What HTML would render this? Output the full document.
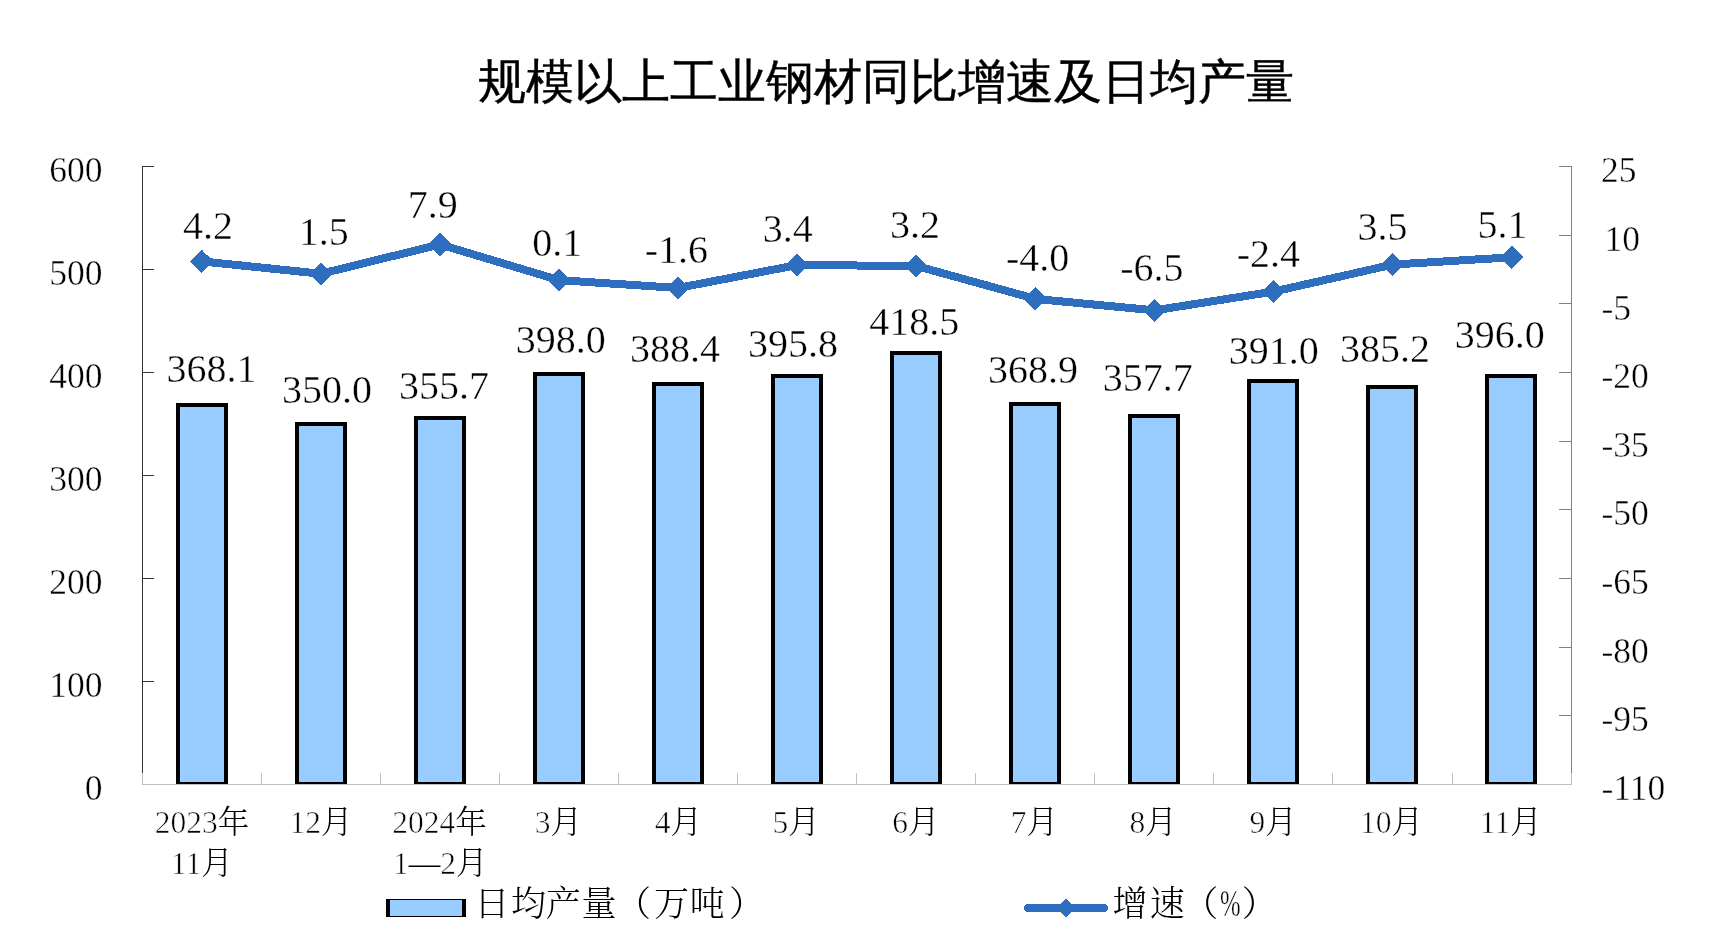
<!DOCTYPE html><html><head><meta charset="utf-8"><style>html,body{margin:0;padding:0;background:#fff}svg{display:block;will-change:transform}.n{font-family:"Liberation Serif",serif;stroke:#fff;stroke-width:0.4px}.c{font-family:"Liberation Serif","Noto Serif CJK SC",serif;font-weight:300}.d{stroke:#fff;stroke-width:0.6px}.t{font-family:"WenQuanYi Zen Hei",sans-serif}</style></head><body>
<svg width="1728" height="936" viewBox="0 0 1728 936">
<rect width="1728" height="936" fill="#fff"/>
<text class="t" x="478.0" y="98.0" font-size="48.0" fill="#000" stroke="#000" stroke-width="0.40">规模以上工业钢材同比增速及日均产量</text>
<g shape-rendering="crispEdges">
<line x1="142" y1="784.5" x2="1572" y2="784.5" stroke="#c0c0c0" stroke-width="1"/>
<line x1="142.5" y1="773" x2="142.5" y2="784" stroke="#c0c0c0" stroke-width="1"/>
<line x1="261.5" y1="773" x2="261.5" y2="784" stroke="#c0c0c0" stroke-width="1"/>
<line x1="380.5" y1="773" x2="380.5" y2="784" stroke="#c0c0c0" stroke-width="1"/>
<line x1="499.5" y1="773" x2="499.5" y2="784" stroke="#c0c0c0" stroke-width="1"/>
<line x1="618.5" y1="773" x2="618.5" y2="784" stroke="#c0c0c0" stroke-width="1"/>
<line x1="737.5" y1="773" x2="737.5" y2="784" stroke="#c0c0c0" stroke-width="1"/>
<line x1="856.5" y1="773" x2="856.5" y2="784" stroke="#c0c0c0" stroke-width="1"/>
<line x1="975.5" y1="773" x2="975.5" y2="784" stroke="#c0c0c0" stroke-width="1"/>
<line x1="1094.5" y1="773" x2="1094.5" y2="784" stroke="#c0c0c0" stroke-width="1"/>
<line x1="1213.5" y1="773" x2="1213.5" y2="784" stroke="#c0c0c0" stroke-width="1"/>
<line x1="1332.5" y1="773" x2="1332.5" y2="784" stroke="#c0c0c0" stroke-width="1"/>
<line x1="1452.5" y1="773" x2="1452.5" y2="784" stroke="#c0c0c0" stroke-width="1"/>
<line x1="1571.5" y1="773" x2="1571.5" y2="784" stroke="#c0c0c0" stroke-width="1"/>
<line x1="142.5" y1="166" x2="142.5" y2="773" stroke="#333" stroke-width="1"/>
<line x1="142" y1="166.5" x2="154" y2="166.5" stroke="#333" stroke-width="1"/>
<line x1="142" y1="269.5" x2="154" y2="269.5" stroke="#333" stroke-width="1"/>
<line x1="142" y1="372.5" x2="154" y2="372.5" stroke="#333" stroke-width="1"/>
<line x1="142" y1="475.5" x2="154" y2="475.5" stroke="#333" stroke-width="1"/>
<line x1="142" y1="578.5" x2="154" y2="578.5" stroke="#333" stroke-width="1"/>
<line x1="142" y1="681.5" x2="154" y2="681.5" stroke="#333" stroke-width="1"/>
<line x1="1571.5" y1="166" x2="1571.5" y2="773" stroke="#808080" stroke-width="1"/>
<line x1="1559" y1="166.5" x2="1572" y2="166.5" stroke="#808080" stroke-width="1"/>
<line x1="1559" y1="235.5" x2="1572" y2="235.5" stroke="#808080" stroke-width="1"/>
<line x1="1559" y1="303.5" x2="1572" y2="303.5" stroke="#808080" stroke-width="1"/>
<line x1="1559" y1="372.5" x2="1572" y2="372.5" stroke="#808080" stroke-width="1"/>
<line x1="1559" y1="441.5" x2="1572" y2="441.5" stroke="#808080" stroke-width="1"/>
<line x1="1559" y1="509.5" x2="1572" y2="509.5" stroke="#808080" stroke-width="1"/>
<line x1="1559" y1="578.5" x2="1572" y2="578.5" stroke="#808080" stroke-width="1"/>
<line x1="1559" y1="647.5" x2="1572" y2="647.5" stroke="#808080" stroke-width="1"/>
<line x1="1559" y1="715.5" x2="1572" y2="715.5" stroke="#808080" stroke-width="1"/>
</g>
<defs><clipPath id="pc"><rect x="0" y="0" width="1728" height="784"/></clipPath></defs>
<g clip-path="url(#pc)">
<rect x="178.00" y="405.00" width="48.00" height="379.00" fill="#99ccff" stroke="#000" stroke-width="4" stroke-linejoin="miter"/>
<rect x="297.00" y="424.00" width="48.00" height="360.00" fill="#99ccff" stroke="#000" stroke-width="4" stroke-linejoin="miter"/>
<rect x="416.00" y="418.00" width="48.00" height="366.00" fill="#99ccff" stroke="#000" stroke-width="4" stroke-linejoin="miter"/>
<rect x="535.00" y="374.00" width="48.00" height="410.00" fill="#99ccff" stroke="#000" stroke-width="4" stroke-linejoin="miter"/>
<rect x="654.00" y="384.00" width="48.00" height="400.00" fill="#99ccff" stroke="#000" stroke-width="4" stroke-linejoin="miter"/>
<rect x="773.00" y="376.00" width="48.00" height="408.00" fill="#99ccff" stroke="#000" stroke-width="4" stroke-linejoin="miter"/>
<rect x="892.00" y="353.00" width="48.00" height="431.00" fill="#99ccff" stroke="#000" stroke-width="4" stroke-linejoin="miter"/>
<rect x="1011.00" y="404.00" width="48.00" height="380.00" fill="#99ccff" stroke="#000" stroke-width="4" stroke-linejoin="miter"/>
<rect x="1130.00" y="416.00" width="48.00" height="368.00" fill="#99ccff" stroke="#000" stroke-width="4" stroke-linejoin="miter"/>
<rect x="1249.00" y="381.00" width="48.00" height="403.00" fill="#99ccff" stroke="#000" stroke-width="4" stroke-linejoin="miter"/>
<rect x="1368.00" y="387.00" width="48.00" height="397.00" fill="#99ccff" stroke="#000" stroke-width="4" stroke-linejoin="miter"/>
<rect x="1487.00" y="376.00" width="48.00" height="408.00" fill="#99ccff" stroke="#000" stroke-width="4" stroke-linejoin="miter"/>
</g>
<polyline points="201.80,261.39 320.89,273.74 439.98,244.45 559.07,280.15 678.16,287.93 797.25,265.05 916.34,265.96 1035.43,298.91 1154.52,310.35 1273.61,291.59 1392.70,264.59 1511.79,257.27" fill="none" stroke="#2d6ebe" stroke-width="8.0" stroke-linejoin="round" shape-rendering="crispEdges"/>
<polygon points="201.80,249.79 213.40,261.39 201.80,272.99 190.20,261.39" fill="#2d6ebe" shape-rendering="crispEdges"/>
<polygon points="320.89,262.14 332.49,273.74 320.89,285.34 309.29,273.74" fill="#2d6ebe" shape-rendering="crispEdges"/>
<polygon points="439.98,232.85 451.58,244.45 439.98,256.05 428.38,244.45" fill="#2d6ebe" shape-rendering="crispEdges"/>
<polygon points="559.07,268.55 570.67,280.15 559.07,291.75 547.47,280.15" fill="#2d6ebe" shape-rendering="crispEdges"/>
<polygon points="678.16,276.33 689.76,287.93 678.16,299.53 666.56,287.93" fill="#2d6ebe" shape-rendering="crispEdges"/>
<polygon points="797.25,253.45 808.85,265.05 797.25,276.65 785.65,265.05" fill="#2d6ebe" shape-rendering="crispEdges"/>
<polygon points="916.34,254.36 927.94,265.96 916.34,277.56 904.74,265.96" fill="#2d6ebe" shape-rendering="crispEdges"/>
<polygon points="1035.43,287.31 1047.03,298.91 1035.43,310.51 1023.83,298.91" fill="#2d6ebe" shape-rendering="crispEdges"/>
<polygon points="1154.52,298.75 1166.12,310.35 1154.52,321.95 1142.92,310.35" fill="#2d6ebe" shape-rendering="crispEdges"/>
<polygon points="1273.61,279.99 1285.21,291.59 1273.61,303.19 1262.01,291.59" fill="#2d6ebe" shape-rendering="crispEdges"/>
<polygon points="1392.70,252.99 1404.30,264.59 1392.70,276.19 1381.10,264.59" fill="#2d6ebe" shape-rendering="crispEdges"/>
<polygon points="1511.79,245.67 1523.39,257.27 1511.79,268.87 1500.19,257.27" fill="#2d6ebe" shape-rendering="crispEdges"/>
<text class="n" x="208.05" y="238.90" font-size="40.0" text-anchor="middle">4.2</text>
<text class="n" x="323.75" y="244.70" font-size="40.0" text-anchor="middle">1.5</text>
<text class="n" x="432.80" y="218.00" font-size="40.0" text-anchor="middle">7.9</text>
<text class="n" x="557.35" y="256.40" font-size="40.0" text-anchor="middle">0.1</text>
<text class="n" x="676.40" y="263.30" font-size="40.0" text-anchor="middle">-1.6</text>
<text class="n" x="787.75" y="241.70" font-size="40.0" text-anchor="middle">3.4</text>
<text class="n" x="915.00" y="237.50" font-size="40.0" text-anchor="middle">3.2</text>
<text class="n" x="1037.65" y="271.10" font-size="40.0" text-anchor="middle">-4.0</text>
<text class="n" x="1151.80" y="281.40" font-size="40.0" text-anchor="middle">-6.5</text>
<text class="n" x="1268.45" y="266.70" font-size="40.0" text-anchor="middle">-2.4</text>
<text class="n" x="1382.40" y="240.30" font-size="40.0" text-anchor="middle">3.5</text>
<text class="n" x="1502.50" y="237.50" font-size="40.0" text-anchor="middle">5.1</text>
<text class="n" x="211.55" y="381.90" font-size="40.0" text-anchor="middle">368.1</text>
<text class="n" x="326.95" y="403.30" font-size="40.0" text-anchor="middle">350.0</text>
<text class="n" x="443.90" y="399.20" font-size="40.0" text-anchor="middle">355.7</text>
<text class="n" x="560.85" y="353.30" font-size="40.0" text-anchor="middle">398.0</text>
<text class="n" x="675.00" y="361.70" font-size="40.0" text-anchor="middle">388.4</text>
<text class="n" x="793.05" y="356.70" font-size="40.0" text-anchor="middle">395.8</text>
<text class="n" x="914.30" y="335.30" font-size="40.0" text-anchor="middle">418.5</text>
<text class="n" x="1032.95" y="383.10" font-size="40.0" text-anchor="middle">368.9</text>
<text class="n" x="1147.80" y="391.30" font-size="40.0" text-anchor="middle">357.7</text>
<text class="n" x="1273.85" y="363.80" font-size="40.0" text-anchor="middle">391.0</text>
<text class="n" x="1385.05" y="361.80" font-size="40.0" text-anchor="middle">385.2</text>
<text class="n" x="1499.80" y="347.90" font-size="40.0" text-anchor="middle">396.0</text>
<text class="n" x="102.5" y="181.8" font-size="35.5" text-anchor="end">600</text>
<text class="n" x="102.5" y="284.8" font-size="35.5" text-anchor="end">500</text>
<text class="n" x="102.5" y="387.7" font-size="35.5" text-anchor="end">400</text>
<text class="n" x="102.5" y="490.7" font-size="35.5" text-anchor="end">300</text>
<text class="n" x="102.5" y="593.7" font-size="35.5" text-anchor="end">200</text>
<text class="n" x="102.5" y="696.6" font-size="35.5" text-anchor="end">100</text>
<text class="n" x="102.5" y="799.6" font-size="35.5" text-anchor="end">0</text>
<text class="n" x="1601.0" y="182.2" font-size="35.5" text-anchor="start">25</text>
<text class="n" x="1604.5" y="250.8" font-size="35.5" text-anchor="start">10</text>
<text class="n" x="1601.5" y="319.5" font-size="35.5" text-anchor="start">-5</text>
<text class="n" x="1601.5" y="388.1" font-size="35.5" text-anchor="start">-20</text>
<text class="n" x="1601.5" y="456.8" font-size="35.5" text-anchor="start">-35</text>
<text class="n" x="1601.5" y="525.4" font-size="35.5" text-anchor="start">-50</text>
<text class="n" x="1601.5" y="594.1" font-size="35.5" text-anchor="start">-65</text>
<text class="n" x="1601.5" y="662.7" font-size="35.5" text-anchor="start">-80</text>
<text class="n" x="1601.5" y="731.4" font-size="35.5" text-anchor="start">-95</text>
<text class="n" x="1601.5" y="800.0" font-size="35.5" text-anchor="start">-110</text>
<text class="c" x="202.10" y="832.50" font-size="31.5" text-anchor="middle"><tspan class="d">2023</tspan>年</text>
<text class="c" x="201.80" y="873.60" font-size="31.5" text-anchor="middle"><tspan class="d">11</tspan>月</text>
<text class="c" x="320.90" y="832.50" font-size="31.5" text-anchor="middle"><tspan class="d">12</tspan>月</text>
<text class="c" x="439.60" y="832.50" font-size="31.5" text-anchor="middle"><tspan class="d">2024</tspan>年</text>
<text class="c" x="440.20" y="873.60" font-size="31.5" text-anchor="middle"><tspan class="d">1</tspan>—<tspan class="d">2</tspan>月</text>
<text class="c" x="558.30" y="832.50" font-size="31.5" text-anchor="middle"><tspan class="d">3</tspan>月</text>
<text class="c" x="678.30" y="832.50" font-size="31.5" text-anchor="middle"><tspan class="d">4</tspan>月</text>
<text class="c" x="796.10" y="832.50" font-size="31.5" text-anchor="middle"><tspan class="d">5</tspan>月</text>
<text class="c" x="916.00" y="832.50" font-size="31.5" text-anchor="middle"><tspan class="d">6</tspan>月</text>
<text class="c" x="1034.50" y="832.50" font-size="31.5" text-anchor="middle"><tspan class="d">7</tspan>月</text>
<text class="c" x="1153.20" y="832.50" font-size="31.5" text-anchor="middle"><tspan class="d">8</tspan>月</text>
<text class="c" x="1273.10" y="832.50" font-size="31.5" text-anchor="middle"><tspan class="d">9</tspan>月</text>
<text class="c" x="1391.50" y="832.50" font-size="31.5" text-anchor="middle"><tspan class="d">10</tspan>月</text>
<text class="c" x="1510.80" y="832.50" font-size="31.5" text-anchor="middle"><tspan class="d">11</tspan>月</text>
<rect x="388" y="899.5" width="76" height="17" fill="#99ccff" stroke="#000" stroke-width="1"/>
<rect x="386" y="899" width="4" height="18" fill="#000"/><rect x="462" y="899" width="4" height="18" fill="#000"/>
<text class="c" x="474.5 511.1 545.8 581.6 616.0 653.9 689.8 729.0" y="916.0" font-size="35.0">日均产量（万吨）</text>
<line x1="1028" y1="908" x2="1104" y2="908" stroke="#2d6ebe" stroke-width="8" stroke-linecap="round" shape-rendering="crispEdges"/>
<polygon points="1066,898.8 1075.5,908.3 1066,917.8 1056.5,908.3" fill="#2d6ebe" shape-rendering="crispEdges"/>
<text class="c" x="1112.6 1149.8 1183.3" y="916.0" font-size="35.0">增速（</text>
<text class="n" transform="translate(1220.0,915.6) scale(0.650,1)" font-size="38.0">%</text>
<text class="c" x="1241.8" y="916.0" font-size="35.0">）</text>
</svg></body></html>
